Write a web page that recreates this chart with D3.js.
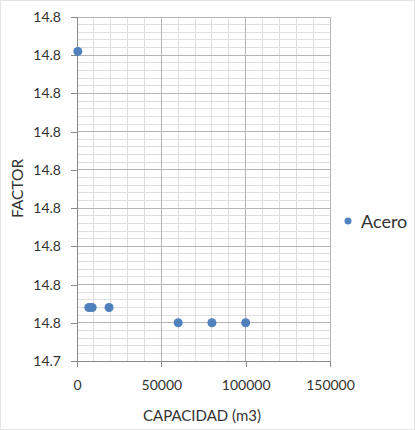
<!DOCTYPE html>
<html>
<head>
<meta charset="utf-8">
<script src="https://cdn.jsdelivr.net/npm/d3@7"></script>
<style>
  html, body { margin: 0; padding: 0; background: #fff; }
  svg { display: block; }
  text { font-family: Lato, "Open Sans", sans-serif; fill: #333; }
</style>
</head>
<body>
<svg id="chart" width="415" height="430"></svg>
<script>
// ---- data ----
const seriesName = "Acero";
const capacidad = [500, 7000, 9000, 19000, 60000, 80000, 100000];
const factor = [14.821, 14.754, 14.754, 14.754, 14.750, 14.750, 14.750];
const xTickValues = [0, 50000, 100000, 150000];
const xTickLabels = ["0", "50000", "100000", "150000"];
const yTickValues = [14.74, 14.75, 14.76, 14.77, 14.78, 14.79, 14.80, 14.81, 14.82, 14.83];
const yTickLabels = ["14.7", "14.8", "14.8", "14.8", "14.8", "14.8", "14.8", "14.8", "14.8", "14.8"];
const xTitle = "CAPACIDAD (m3)";
const yTitle = "FACTOR";

// ---- layout ----
const svg = d3.select("#chart");
const W = 415, H = 430;
const plot = { left: 77, right: 330, top: 17, bottom: 361 };

const x = d3.scaleLinear().domain([0, 150000]).range([plot.left, plot.right]);
const y = d3.scaleLinear().domain([14.74, 14.83]).range([plot.bottom, plot.top]);

// outer border (faint)
svg.append("rect").attr("x", 0.5).attr("y", 0.5).attr("width", W - 1).attr("height", H - 1)
  .attr("fill", "none").attr("stroke", "#e4e4e4");

// minor gridlines
const xMinor = d3.range(0, 150001, 10000);
const yMinor = d3.range(0, 46).map(i => 14.74 + i * 0.002);
const g = svg.append("g");
g.selectAll("line.xm").data(xMinor).join("line")
  .attr("x1", d => x(d)).attr("x2", d => x(d))
  .attr("y1", plot.top).attr("y2", plot.bottom)
  .attr("stroke", "#dedede").attr("stroke-width", 1).attr("shape-rendering", "crispEdges");
g.selectAll("line.ym").data(yMinor).join("line")
  .attr("x1", plot.left).attr("x2", plot.right)
  .attr("y1", d => y(d)).attr("y2", d => y(d))
  .attr("stroke", "#dedede").attr("stroke-width", 1).attr("shape-rendering", "crispEdges");

// major gridlines
g.selectAll("line.xM").data(xTickValues).join("line")
  .attr("x1", d => x(d)).attr("x2", d => x(d))
  .attr("y1", plot.top).attr("y2", plot.bottom)
  .attr("stroke", "#b5b5b5").attr("stroke-width", 1).attr("shape-rendering", "crispEdges");
g.selectAll("line.yM").data(yTickValues).join("line")
  .attr("x1", plot.left).attr("x2", plot.right)
  .attr("y1", d => y(d)).attr("y2", d => y(d))
  .attr("stroke", "#b5b5b5").attr("stroke-width", 1).attr("shape-rendering", "crispEdges");

// axes
const xAxis = d3.axisBottom(x).tickValues(xTickValues)
  .tickFormat((d, i) => xTickLabels[i]).tickSize(6).tickPadding(13);
const yAxis = d3.axisLeft(y).tickValues(yTickValues)
  .tickFormat((d, i) => yTickLabels[i]).tickSize(6).tickPadding(10);

const gx = svg.append("g").attr("transform", `translate(0,${plot.bottom})`).call(xAxis);
const gy = svg.append("g").attr("transform", `translate(${plot.left},0)`).call(yAxis);
[gx, gy].forEach(a => {
  a.select(".domain").attr("stroke", "#8a8a8a").attr("shape-rendering", "crispEdges");
  a.selectAll(".tick line").attr("stroke", "#8a8a8a").attr("shape-rendering", "crispEdges");
  a.selectAll(".tick text").attr("font-family", "Lato, sans-serif").attr("font-size", 14).attr("fill", "#2b2b2b");
});
gx.select(".domain").attr("d", `M${plot.left},0H${plot.right}`);
gy.select(".domain").attr("d", `M0,${plot.bottom}V${plot.top}`);

// points
svg.append("g").selectAll("circle").data(capacidad.map((c, i) => ({ c, f: factor[i] })))
  .join("circle")
  .attr("cx", d => x(d.c)).attr("cy", d => y(d.f)).attr("r", 4.5)
  .attr("fill", "#4f81bd");

// axis titles
svg.append("text").attr("x", 202).attr("y", 421)
  .attr("text-anchor", "middle").attr("font-size", 15).attr("fill", "#2b2b2b").text(xTitle);
svg.append("text").attr("transform", "translate(23,188.5) rotate(-90)")
  .attr("text-anchor", "middle").attr("font-size", 15.5).attr("fill", "#2b2b2b").text(yTitle);

// legend
svg.append("circle").attr("cx", 348).attr("cy", 221).attr("r", 3.5).attr("fill", "#4f81bd");
svg.append("text").attr("x", 361).attr("y", 227.5).attr("font-size", 18).attr("fill", "#2b2b2b").text(seriesName);
</script>
</body>
</html>
